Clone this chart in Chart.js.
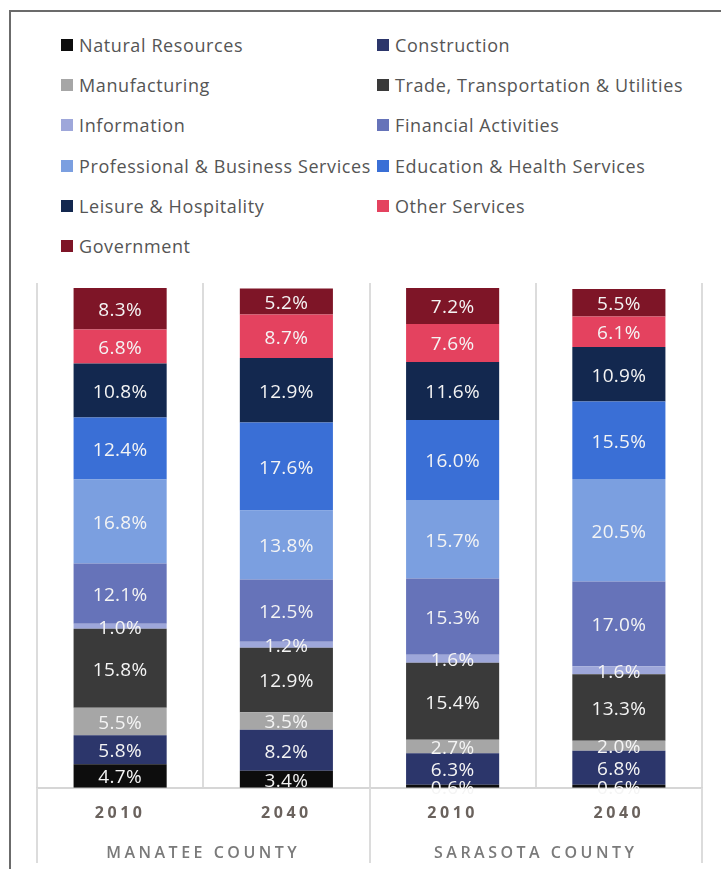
<!DOCTYPE html>
<html>
<head>
<meta charset="utf-8">
<script src="https://cdn.jsdelivr.net/npm/chart.js@4/dist/chart.umd.min.js"></script>
<style>
  body { margin: 0; background: #fff; }
  #wrap { position: relative; width: 721px; height: 869px; overflow: hidden; }
  #frame {
    position: absolute; left: 9px; top: 10px; right: 0; bottom: 0;
    border-top: 2px solid #6b6b6b; border-left: 2px solid #6b6b6b;
  }
  #legend {
    position: absolute; left: 61px; top: 25px;
    display: grid; grid-template-columns: 316px 330px; grid-auto-rows: 40.2px;
    font-family: "Open Sans", sans-serif; font-size: 18px; letter-spacing: 0.6px; color: #555;
  }
  .item { display: flex; align-items: center; white-space: nowrap; }
  .box { width: 12px; height: 12px; margin-right: 6px; flex: none; }
  canvas { position: absolute; left: 0; top: 0; }
</style>
</head>
<body>
<div id="wrap">
  <div id="frame"></div>
  <div id="legend"></div>
  <canvas id="shareChart" width="721" height="869"></canvas>
</div>
<script>
// employment share by industry, bottom of the stack first
const years = ['2010', '2040', '2010', '2040'];
const counties = ['MANATEE COUNTY', 'SARASOTA COUNTY'];

const industries = [
  'Natural Resources', 'Construction', 'Manufacturing',
  'Trade, Transportation & Utilities', 'Information', 'Financial Activities',
  'Professional & Business Services', 'Education & Health Services',
  'Leisure & Hospitality', 'Other Services', 'Government'
];
const colors = [
  '#0d0d0d', '#2c366b', '#a6a6a6', '#3a3a3a', '#9ea7da', '#6673b9',
  '#7b9fe0', '#3a6fd6', '#13284f', '#e4425f', '#7e1527'
];

const naturalResources = [4.7, 3.4, 0.6, 0.6];
const construction     = [5.8, 8.2, 6.3, 6.8];
const manufacturing    = [5.5, 3.5, 2.7, 2.0];
const trade            = [15.8, 12.9, 15.4, 13.3];
const information      = [1.0, 1.2, 1.6, 1.6];
const financial        = [12.1, 12.5, 15.3, 17.0];
const professional     = [16.8, 13.8, 15.7, 20.5];
const eduHealth        = [12.4, 17.6, 16.0, 15.5];
const leisure          = [10.8, 12.9, 11.6, 10.9];
const otherServices    = [6.8, 8.7, 7.6, 6.1];
const government       = [8.3, 5.2, 7.2, 5.5];

const series = [naturalResources, construction, manufacturing, trade, information,
  financial, professional, eduHealth, leisure, otherServices, government];

const datasets = series.map((vals, i) => ({
  label: industries[i],
  data: vals,
  backgroundColor: colors[i],
  borderWidth: 0,
  barPercentage: 0.56,
  categoryPercentage: 1.0
}));

// percent labels in the middle of each segment
const segmentLabels = {
  id: 'segmentLabels',
  afterDatasetsDraw(chart) {
    const ctx = chart.ctx;
    ctx.save();
    ctx.letterSpacing = '0.3px';
    ctx.font = '19px "Open Sans"';
    ctx.fillStyle = '#f4f4f4';
    ctx.textAlign = 'center';
    ctx.textBaseline = 'middle';
    chart.data.datasets.forEach((ds, i) => {
      chart.getDatasetMeta(i).data.forEach((bar, j) => {
        const y = (bar.y + bar.base) / 2 + 2;
        ctx.fillText(ds.data[j].toFixed(1) + '%', bar.x, y);
      });
    });
    ctx.restore();
  }
};

// axis text is spaced out; data labels are not
const spacedTicks = {
  id: 'spacedTicks',
  beforeDraw(chart) { chart.ctx.letterSpacing = '3.5px'; },
  beforeDatasetsDraw(chart) { chart.ctx.letterSpacing = '0px'; }
};

// county separators run down through the label rows
const countyDividers = {
  id: 'countyDividers',
  afterDraw(chart) {
    const x = chart.scales.x;
    const ctx = chart.ctx;
    const top = chart.chartArea.bottom;
    const bottom = chart.height - 6;
    ctx.save();
    ctx.strokeStyle = '#dcdcdc';
    ctx.lineWidth = 2;
    [-0.5, 1.5, 3.5].forEach(v => {
      const px = Math.round(x.getPixelForValue(v));
      ctx.beginPath();
      ctx.moveTo(px, top);
      ctx.lineTo(px, bottom);
      ctx.stroke();
    });
    ctx.restore();
  }
};

const chart = new Chart(document.getElementById('shareChart'), {
  type: 'bar',
  data: { labels: years, datasets: datasets },
  options: {
    responsive: false,
    animation: false,
    layout: { padding: { left: 37, right: 19, top: 283, bottom: 1 } },
    plugins: {
      legend: { display: false },
      tooltip: { enabled: false }
    },
    scales: {
      x: {
        stacked: true,
        offset: true,
        grid: { offset: true, color: '#dcdcdc', lineWidth: 2, drawTicks: false },
        border: { display: true, color: '#d6d6d6', width: 2 },
        ticks: {
          padding: 15.9,
          color: '#6a625d',
          font: { family: 'Open Sans', size: 16, weight: 'bold' }
        }
      },
      county: {
        type: 'category',
        position: 'bottom',
        labels: counties,
        offset: true,
        grid: { display: false, drawTicks: false },
        border: { display: false },
        ticks: {
          padding: 5,
          color: '#7a7a7a',
          font: { family: 'Open Sans', size: 16, weight: '600' }
        }
      },
      y: {
        stacked: true,
        display: false,
        min: 0,
        max: 101
      }
    }
  },
  plugins: [spacedTicks, segmentLabels, countyDividers]
});

// two-column legend built from the chart's own legend items
const legendBox = document.getElementById('legend');
Chart.defaults.plugins.legend.labels.generateLabels(chart).forEach(item => {
  const row = document.createElement('div');
  row.className = 'item';
  const box = document.createElement('span');
  box.className = 'box';
  box.style.background = item.fillStyle;
  const txt = document.createElement('span');
  txt.textContent = item.text;
  row.appendChild(box);
  row.appendChild(txt);
  legendBox.appendChild(row);
});
</script>
</body>
</html>
